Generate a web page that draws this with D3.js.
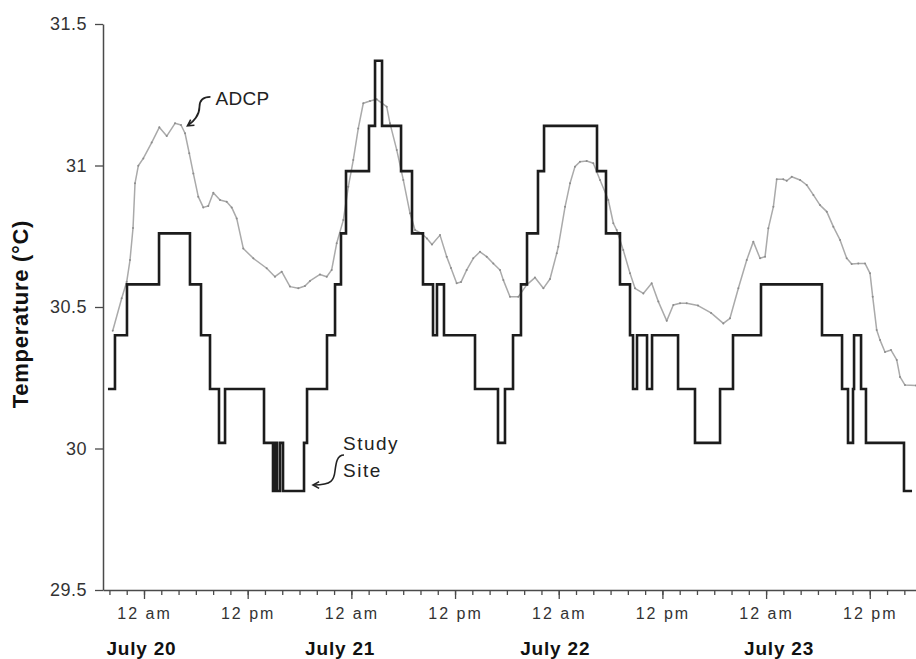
<!DOCTYPE html>
<html>
<head>
<meta charset="utf-8">
<script src="https://cdn.jsdelivr.net/npm/d3@7"></script>
<style>
  html, body { margin: 0; padding: 0; background: #fff; }
  svg { display: block; }
  text { font-family: "Liberation Sans", Arial, Helvetica, sans-serif; }
</style>
</head>
<body>
<svg id="chart" width="916" height="659"></svg>
<script>
// Hours are counted from midnight at the start of July 20.
const yTicks = [29.5, 30, 30.5, 31, 31.5];
const yTickLabels = ["29.5", "30", "30.5", "31", "31.5"];
const xTickLabels = ["12 am", "12 pm"];
const dateLabels = ["July 20", "July 21", "July 22", "July 23"];
const dateHours = [-0.3, 22.7, 47.6, 73.5];

// Study site logger: each temperature holds until the next change time.
const siteHours = [-4.17, -3.36, -1.97, 1.74, 5.32, 6.60, 7.64, 8.68, 9.38, 13.89,
  14.93, 15.16, 15.39, 15.74, 16.09, 18.52, 18.87, 21.18, 22.11, 22.80,
  23.38, 26.04, 26.74, 27.55, 29.75, 31.02, 32.29, 33.45, 33.91, 34.72,
  38.31, 40.97, 41.78, 42.71, 43.63, 44.33, 45.60, 46.30, 52.43, 53.47,
  55.09, 56.25, 56.60, 57.06, 58.22, 58.80, 61.81, 63.77, 66.67, 68.17,
  71.41, 78.47, 80.79, 81.48, 82.06, 82.18, 82.99, 83.56, 87.96, 88.89];
const siteTemps = [30.21, 30.40, 30.58, 30.76, 30.58, 30.40, 30.21, 30.02, 30.21, 30.02,
  29.85, 30.02, 29.85, 30.02, 29.85, 30.02, 30.21, 30.40, 30.58, 30.76,
  30.98, 31.14, 31.37, 31.14, 30.98, 30.76, 30.58, 30.40, 30.58, 30.40,
  30.21, 30.02, 30.21, 30.40, 30.58, 30.76, 30.98, 31.14, 30.98, 30.76,
  30.58, 30.40, 30.21, 30.40, 30.21, 30.40, 30.21, 30.02, 30.21, 30.40,
  30.58, 30.40, 30.21, 30.02, 30.21, 30.40, 30.21, 30.02, 29.85, 29.85];

// ADCP temperature record.
const adcpHours = [-3.62, -2.58, -2.00, -1.62, -1.27, -1.04, -0.66, -0.08, 0.89, 1.77,
  2.63, 3.59, 4.28, 4.75, 5.24, 5.71, 6.28, 6.86, 7.44, 8.02,
  8.80, 9.57, 10.15, 10.73, 11.49, 12.65, 14.20, 15.16, 15.94, 16.90,
  17.86, 18.63, 19.21, 20.37, 21.15, 21.72, 22.30, 23.07, 23.65, 24.22,
  24.80, 25.38, 26.16, 26.93, 28.09, 28.47, 29.25, 30.01, 30.79, 31.37,
  32.14, 32.75, 33.33, 34.26, 35.03, 35.53, 36.19, 36.69, 37.35, 38.11,
  38.89, 39.66, 40.43, 41.20, 41.59, 42.36, 43.32, 44.29, 45.25, 46.22,
  46.99, 47.77, 47.95, 48.73, 49.31, 49.88, 50.46, 51.24, 52.00, 52.78,
  53.74, 54.32, 54.71, 55.47, 56.25, 56.83, 57.79, 58.76, 59.53, 60.50,
  61.26, 62.04, 62.81, 64.12, 65.63, 67.05, 67.82, 68.79, 69.76, 70.52,
  71.30, 71.88, 72.26, 72.84, 73.23, 73.99, 74.39, 74.97, 75.93, 76.70,
  77.47, 78.24, 79.02, 79.78, 80.56, 81.33, 81.91, 82.67, 83.45, 84.03,
  84.34, 84.80, 85.19, 85.76, 86.46, 87.12, 87.50, 88.08, 89.35];
const adcpTemps = [30.416, 30.531, 30.589, 30.666, 30.779, 30.937, 30.999, 31.025, 31.081, 31.135,
  31.104, 31.149, 31.143, 31.114, 31.043, 30.972, 30.890, 30.852, 30.857, 30.904,
  30.878, 30.872, 30.852, 30.813, 30.707, 30.672, 30.637, 30.607, 30.625, 30.572,
  30.566, 30.574, 30.592, 30.615, 30.607, 30.631, 30.725, 30.807, 30.925, 31.019,
  31.131, 31.220, 31.228, 31.234, 31.208, 31.149, 31.055, 30.949, 30.831, 30.772,
  30.760, 30.742, 30.721, 30.754, 30.678, 30.638, 30.584, 30.588, 30.631, 30.672,
  30.695, 30.678, 30.654, 30.631, 30.595, 30.536, 30.536, 30.578, 30.604, 30.566,
  30.599, 30.690, 30.713, 30.854, 30.937, 30.996, 31.013, 31.016, 31.008, 30.949,
  30.878, 30.796, 30.772, 30.701, 30.619, 30.566, 30.548, 30.584, 30.519, 30.451,
  30.507, 30.513, 30.513, 30.505, 30.479, 30.442, 30.460, 30.566, 30.666, 30.731,
  30.672, 30.678, 30.778, 30.854, 30.951, 30.951, 30.946, 30.960, 30.949, 30.931,
  30.896, 30.860, 30.837, 30.784, 30.737, 30.672, 30.652, 30.654, 30.654, 30.619,
  30.536, 30.419, 30.383, 30.341, 30.348, 30.313, 30.253, 30.224, 30.223];

// Series labels with the point each arrow touches (hour, temperature).
const notes = [
  { lines: ["ADCP"], hour: 5.03, temp: 31.14, kind: "adcp" },
  { lines: ["Study", "Site"], hour: 19.56, temp: 29.871, kind: "site" }
];

const base = new Date(1997, 6, 20, 0, 0, 0).getTime();
const toDate = h => new Date(base + h * 3600e3);

const svg = d3.select("#chart");
const plotLeft = 103, plotRight = 916, plotTop = 24, plotBottom = 590;

const x = d3.scaleTime()
  .domain([toDate(-4.745), toDate(89.35)])
  .range([plotLeft, plotRight]);
const y = d3.scaleLinear()
  .domain([29.5, 31.5])
  .range([plotBottom, plotTop]);

const axisColor = "#4a4a4a";
const textColor = "#333";

// Bottom axis: minor ticks every 2 hours, labelled ticks every 12 hours.
const minorAxis = d3.axisBottom(x)
  .ticks(d3.timeHour.every(2))
  .tickSize(5)
  .tickSizeOuter(0)
  .tickFormat("");
const gMinor = svg.append("g")
  .attr("transform", `translate(0,${plotBottom})`)
  .call(minorAxis);

const majorAxis = d3.axisBottom(x)
  .ticks(d3.timeHour.every(12))
  .tickSize(9)
  .tickSizeOuter(0)
  .tickPadding(9)
  .tickFormat(d => d.getHours() === 0 ? xTickLabels[0] : xTickLabels[1]);
const gMajor = svg.append("g")
  .attr("transform", `translate(0,${plotBottom})`)
  .call(majorAxis);

[gMinor, gMajor].forEach(g => {
  g.select(".domain").attr("stroke", axisColor).attr("stroke-width", 1.5);
  g.selectAll(".tick line").attr("stroke", axisColor).attr("stroke-width", 1.3);
});
gMajor.select(".domain").remove();
gMajor.selectAll(".tick text")
  .attr("fill", textColor)
  .style("font-size", "16px")
  .style("letter-spacing", "2px");

// Left axis
const yAxis = d3.axisLeft(y)
  .tickValues(yTicks)
  .tickSize(8)
  .tickSizeOuter(0)
  .tickPadding(8)
  .tickFormat((d, i) => yTickLabels[i]);
const gy = svg.append("g")
  .attr("transform", `translate(${plotLeft},0)`)
  .call(yAxis);
gy.select(".domain").attr("stroke", axisColor).attr("stroke-width", 1.5);
gy.selectAll(".tick line").attr("stroke", axisColor).attr("stroke-width", 1.3);
gy.selectAll(".tick text")
  .attr("fill", textColor)
  .style("font-size", "18px")
  .style("letter-spacing", "0.5px");

// Axis title
svg.append("text")
  .attr("transform", `translate(28,${(plotTop + plotBottom) / 2 + 7}) rotate(-90)`)
  .attr("text-anchor", "middle")
  .attr("fill", "#111")
  .style("font-size", "22px")
  .style("font-weight", "bold")
  .style("letter-spacing", "0.7px")
  .text("Temperature (°C)");

// Day labels
svg.append("g").selectAll("text")
  .data(dateLabels)
  .join("text")
  .attr("x", (d, i) => x(toDate(dateHours[i])))
  .attr("y", 655)
  .attr("text-anchor", "middle")
  .attr("fill", "#111")
  .style("font-size", "19px")
  .style("font-weight", "bold")
  .style("letter-spacing", "0.8px")
  .text(d => d);

// ADCP series: thin light-grey trace with small sample dots
const adcp = adcpHours.map((h, i) => [toDate(h), adcpTemps[i]]);
svg.append("path")
  .datum(adcp)
  .attr("fill", "none")
  .attr("stroke", "#aaaaaa")
  .attr("stroke-width", 1.5)
  .attr("stroke-linejoin", "round")
  .attr("d", d3.line().x(d => x(d[0])).y(d => y(d[1])).curve(d3.curveLinear));
svg.append("g").selectAll("circle")
  .data(adcp)
  .join("circle")
  .attr("cx", d => x(d[0]))
  .attr("cy", d => y(d[1]))
  .attr("r", 1)
  .attr("fill", "#8c8c8c");

// Study site series: stepped trace
const site = siteHours.map((h, i) => [toDate(h), siteTemps[i]]);
svg.append("path")
  .datum(site)
  .attr("fill", "none")
  .attr("stroke", "#1c1c1c")
  .attr("stroke-width", 2.6)
  .attr("stroke-linejoin", "miter")
  .attr("d", d3.line().x(d => x(d[0])).y(d => y(d[1])).curve(d3.curveStepAfter));

// Series labels with curved pointer arrows
function arrowHead(g, tx, ty, fx, fy) {
  const a = Math.atan2(fy - ty, fx - tx);
  const len = 7, spread = 0.5;
  const p1 = [tx + len * Math.cos(a + spread), ty + len * Math.sin(a + spread)];
  const p2 = [tx + len * Math.cos(a - spread), ty + len * Math.sin(a - spread)];
  g.append("path")
    .attr("d", `M${p1[0]},${p1[1]} L${tx},${ty} L${p2[0]},${p2[1]}`)
    .attr("fill", "none")
    .attr("stroke", "#222")
    .attr("stroke-width", 1.6);
}

notes.forEach(n => {
  const tx = x(toDate(n.hour)), ty = y(n.temp);
  const g = svg.append("g");
  if (n.kind === "adcp") {
    g.append("path")
      .attr("d", `M${tx + 23},${ty - 29} C${tx + 15},${ty - 29} ${tx + 12},${ty - 25} ${tx + 12},${ty - 19} C${tx + 12},${ty - 11} ${tx + 6},${ty - 4} ${tx + 1},${ty - 1}`)
      .attr("fill", "none").attr("stroke", "#222").attr("stroke-width", 1.8);
    arrowHead(g, tx, ty, tx + 6, ty - 4);
    g.append("text")
      .attr("x", tx + 28).attr("y", ty - 21)
      .attr("fill", "#222")
      .style("font-size", "19px")
      .style("letter-spacing", "0.3px")
      .text(n.lines[0]);
  } else {
    g.append("path")
      .attr("d", `M${tx + 31},${ty - 30} C${tx + 24},${ty - 30} ${tx + 23},${ty - 22} ${tx + 22},${ty - 14} C${tx + 21},${ty - 5} ${tx + 19},${ty} ${tx + 1},${ty}`)
      .attr("fill", "none").attr("stroke", "#222").attr("stroke-width", 1.6);
    arrowHead(g, tx, ty, tx + 8, ty);
    g.selectAll("text")
      .data(n.lines)
      .join("text")
      .attr("x", tx + 30)
      .attr("y", (d, i) => ty - 35 + i * 27)
      .attr("fill", "#222")
      .style("font-size", "19px")
      .style("letter-spacing", "1.5px")
      .text(d => d);
  }
});
</script>
</body>
</html>
